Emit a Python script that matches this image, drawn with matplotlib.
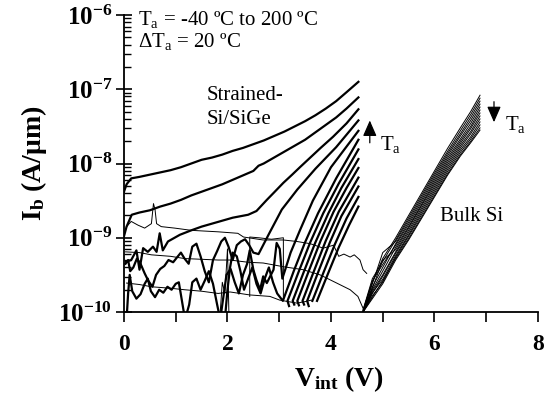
import numpy as np
import matplotlib
matplotlib.use("Agg")
import matplotlib.pyplot as plt
from matplotlib.ticker import LogLocator, NullFormatter, FixedLocator, FuncFormatter

plt.rcParams['font.family'] = 'Liberation Serif'
plt.rcParams['mathtext.fontset'] = 'custom'
plt.rcParams['mathtext.rm'] = 'Liberation Serif'
plt.rcParams['mathtext.bf'] = 'Liberation Serif:bold'
plt.rcParams['mathtext.it'] = 'Liberation Serif:italic'

# values, current given as log10(Ib [A/um])
# strained-Si/SiGe, one curve per ambient temperature (thick lines)
ss_v_200 = [0.0, 0.05, 0.14, 0.3, 0.5, 0.7, 0.9, 1.1, 1.3, 1.5, 1.7, 1.9, 2.1, 2.3, 2.5, 2.7, 2.9, 3.1, 3.3, 3.5, 3.7, 3.9, 4.1, 4.3, 4.53]
ss_lg_200 = [-8.38, -8.28, -8.20, -8.18, -8.15, -8.12, -8.09, -8.05, -8.00, -7.95, -7.92, -7.88, -7.83, -7.79, -7.74, -7.69, -7.63, -7.57, -7.50, -7.43, -7.35, -7.26, -7.16, -7.04, -6.90]

ss_v_180 = [0.0, 0.05, 0.15, 0.3, 0.5, 0.7, 0.9, 1.1, 1.3, 1.5, 1.7, 1.9, 2.1, 2.3, 2.5, 2.6, 2.7, 2.9, 3.1, 3.3, 3.5, 3.7, 3.9, 4.1, 4.3, 4.53]
ss_lg_180 = [-8.98, -8.85, -8.69, -8.66, -8.63, -8.58, -8.54, -8.49, -8.43, -8.38, -8.33, -8.28, -8.22, -8.16, -8.10, -8.03, -8.00, -7.92, -7.84, -7.76, -7.68, -7.58, -7.48, -7.38, -7.26, -7.11]

ss_v_160 = [0.04, 0.14, 0.24, 0.30, 0.37, 0.46, 0.56, 0.63, 0.69, 0.75, 0.85, 1.08, 1.3, 1.5, 1.8, 2.1, 2.4, 2.56, 2.76, 2.9, 3.08, 3.25, 3.4, 3.6, 3.8, 4.04, 4.3, 4.53]
ss_lg_160 = [-9.32, -9.30, -9.17, -9.43, -9.14, -9.19, -9.12, -9.19, -8.94, -9.17, -9.05, -8.96, -8.90, -8.85, -8.79, -8.73, -8.69, -8.64, -8.49, -8.39, -8.26, -8.15, -8.05, -7.92, -7.79, -7.64, -7.46, -7.27]

ss_v_140 = [0.03, 0.08, 0.12, 0.18, 0.25, 0.32, 0.40, 0.47, 0.55, 0.62, 0.70, 0.78, 0.86, 0.95, 1.03, 1.10, 1.17, 1.25, 1.32, 1.40, 1.48, 1.56, 1.64, 1.72, 1.80, 1.88, 1.95, 2.02, 2.10, 2.18, 2.26, 2.34, 2.42, 2.50, 2.6, 2.8, 3.05, 3.35, 3.7, 4.1, 4.53]
ss_lg_140 = [-9.35, -9.30, -9.45, -9.40, -9.28, -9.35, -9.48, -9.58, -9.66, -9.50, -9.42, -9.38, -9.30, -9.33, -9.26, -9.20, -9.28, -9.35, -9.12, -9.08, -9.25, -9.45, -9.60, -9.30, -9.18, -9.05, -9.00, -9.12, -9.30, -9.10, -9.05, -9.02, -9.10, -9.20, -9.22, -8.95, -8.62, -8.35, -8.07, -7.78, -7.42]

ss_v_120 = [0.05, 0.08, 0.11, 0.16, 0.24, 0.32, 0.40, 0.46, 0.52, 0.60, 0.68, 0.76, 0.84, 0.92, 1.00, 1.06, 1.12, 1.18, 1.26, 1.32, 1.40, 1.48, 1.56, 1.64, 1.72, 1.80, 1.86, 1.92, 1.98, 2.06, 2.14, 2.22, 2.30, 2.38, 2.43, 2.50, 2.56, 2.63, 2.69, 2.76, 2.89, 2.95, 3.01, 3.06, 3.12, 3.22, 3.4, 3.65, 4.0, 4.53]
ss_lg_120 = [-10.1, -9.75, -9.5, -9.72, -9.82, -9.76, -9.62, -9.55, -9.72, -9.80, -9.70, -9.74, -9.66, -9.70, -9.62, -9.60, -9.85, -10.1, -9.9, -9.6, -9.55, -9.7, -9.58, -9.45, -9.62, -9.9, -10.1, -9.8, -9.5, -9.42, -9.6, -9.75, -9.5, -9.35, -9.17, -9.43, -9.57, -9.70, -9.52, -9.61, -9.43, -9.07, -9.15, -9.55, -9.42, -9.2, -8.9, -8.5, -8.05, -7.56]

ss_v_100 = [1.95, 2.0, 2.05, 2.1, 2.18, 2.25, 2.32, 2.40, 2.48, 2.56, 2.64, 2.72, 2.80, 2.88, 2.96, 3.07, 3.28, 3.5, 3.75, 4.1, 4.53]
ss_lg_100 = [-10.1, -9.7, -9.4, -9.2, -9.25, -9.45, -9.7, -9.55, -9.4, -9.62, -9.75, -9.55, -9.4, -9.6, -9.75, -9.85, -9.45, -9.06, -8.67, -8.2, -7.68]

ss_v_80 = [3.19, 3.16, 3.38, 3.6, 3.85, 4.15, 4.53]
ss_lg_80 = [-9.92, -9.85, -9.45, -9.06, -8.67, -8.27, -7.81]

ss_v_60 = [3.29, 3.26, 3.48, 3.7, 3.95, 4.2, 4.53]
ss_lg_60 = [-9.9, -9.85, -9.45, -9.06, -8.67, -8.33, -7.94]

ss_v_40 = [3.38, 3.35, 3.57, 3.8, 4.05, 4.3, 4.53]
ss_lg_40 = [-9.91, -9.85, -9.45, -9.04, -8.65, -8.33, -8.06]

ss_v_20 = [3.48, 3.45, 3.67, 3.9, 4.15, 4.53]
ss_lg_20 = [-9.9, -9.85, -9.45, -9.04, -8.65, -8.19]

ss_v_0 = [3.57, 3.54, 3.76, 3.98, 4.2, 4.53]
ss_lg_0 = [-9.92, -9.85, -9.45, -9.06, -8.71, -8.31]

ss_v_m20 = [3.64, 3.86, 4.08, 4.3, 4.53]
ss_lg_m20 = [-9.85, -9.46, -9.08, -8.74, -8.45]

ss_v_m40 = [3.73, 3.95, 4.15, 4.35, 4.53]
ss_lg_m40 = [-9.85, -9.47, -9.13, -8.83, -8.58]

# bulk Si: low-level noise floor (thin lines)
bk_floor_v1 = [0.05, 0.14, 0.27, 0.40, 0.53, 0.57, 0.60, 0.63, 0.72, 0.98, 1.30, 1.82, 2.20, 2.31, 2.69, 3.08, 3.34, 3.60, 3.85, 4.05, 4.15, 4.25, 4.37, 4.45, 4.56, 4.62, 4.69]
bk_floor_lg1 = [-8.85, -8.78, -8.83, -8.87, -8.81, -8.54, -8.62, -8.81, -8.85, -8.87, -8.90, -8.92, -8.94, -8.99, -9.03, -9.03, -9.05, -9.08, -9.14, -9.10, -9.25, -9.22, -9.26, -9.23, -9.30, -9.43, -9.48]
bk_floor_v2 = [0.03, 0.3, 0.53, 0.9, 1.17, 1.5, 1.82, 2.05, 2.4, 2.69, 3.08, 3.46, 3.79, 4.11, 4.37, 4.52, 4.62]
bk_floor_lg2 = [-9.19, -9.2, -9.23, -9.25, -9.28, -9.29, -9.30, -9.30, -9.33, -9.34, -9.39, -9.43, -9.50, -9.61, -9.70, -9.79, -9.95]
bk_floor_v3 = [0.05, 0.3, 0.53, 0.9, 1.17, 1.5, 1.82, 2.05, 2.43, 2.82, 3.01, 3.34, 3.5, 3.62]
bk_floor_lg3 = [-9.61, -9.63, -9.66, -9.68, -9.70, -9.72, -9.75, -9.73, -9.77, -9.79, -9.84, -9.88, -9.86, -9.84]
bk_floor_v4 = [2.43, 2.43, 2.6, 2.85, 3.08, 3.08]
bk_floor_lg4 = [-9.79, -8.99, -9.0, -9.02, -9.0, -9.84]
bk_floor_v5 = [1.85, 1.9, 1.95, 2.0, 2.03]
bk_floor_lg5 = [-10.1, -9.6, -9.75, -9.15, -10.1]

# bulk Si rising part, same voltage points for every temperature
bk_v = [4.62, 4.8, 5.0, 5.25, 5.5, 5.75, 6.0, 6.25, 6.5, 6.7, 6.88]
bk_lg_m40 = [-9.98, -9.60, -9.28, -9.00, -8.70, -8.40, -8.10, -7.80, -7.52, -7.30, -7.08]
bk_lg_m20 = [-9.97, -9.55, -9.32, -9.03, -8.73, -8.43, -8.13, -7.84, -7.56, -7.34, -7.12]
bk_lg_0 = [-9.99, -9.62, -9.20, -9.05, -8.76, -8.46, -8.16, -7.87, -7.60, -7.38, -7.16]
bk_lg_20 = [-10.0, -9.66, -9.40, -9.08, -8.79, -8.49, -8.19, -7.90, -7.63, -7.42, -7.20]
bk_lg_40 = [-9.98, -9.58, -9.36, -9.10, -8.82, -8.52, -8.22, -7.93, -7.67, -7.46, -7.24]
bk_lg_60 = [-10.0, -9.70, -9.45, -9.13, -8.85, -8.55, -8.25, -7.96, -7.70, -7.50, -7.28]
bk_lg_80 = [-9.99, -9.68, -9.30, -9.16, -8.87, -8.57, -8.28, -7.99, -7.73, -7.53, -7.32]
bk_lg_100 = [-10.0, -9.72, -9.50, -9.19, -8.90, -8.60, -8.31, -8.02, -7.76, -7.57, -7.36]
bk_lg_120 = [-10.0, -9.75, -9.52, -9.21, -8.93, -8.63, -8.34, -8.05, -7.79, -7.60, -7.40]
bk_lg_140 = [-10.0, -9.74, -9.56, -9.24, -8.96, -8.66, -8.37, -8.08, -7.82, -7.64, -7.44]
bk_lg_160 = [-10.0, -9.78, -9.60, -9.26, -8.98, -8.69, -8.40, -8.11, -7.85, -7.67, -7.48]
bk_lg_180 = [-10.0, -9.80, -9.58, -9.28, -9.01, -8.72, -8.43, -8.14, -7.88, -7.70, -7.52]
bk_lg_200 = [-10.0, -9.82, -9.62, -9.30, -9.03, -8.74, -8.45, -8.16, -7.90, -7.72, -7.55]

strained = [(ss_v_200, ss_lg_200), (ss_v_180, ss_lg_180), (ss_v_160, ss_lg_160),
            (ss_v_140, ss_lg_140), (ss_v_120, ss_lg_120), (ss_v_100, ss_lg_100),
            (ss_v_80, ss_lg_80), (ss_v_60, ss_lg_60), (ss_v_40, ss_lg_40),
            (ss_v_20, ss_lg_20), (ss_v_0, ss_lg_0), (ss_v_m20, ss_lg_m20),
            (ss_v_m40, ss_lg_m40)]
floor = [(bk_floor_v1, bk_floor_lg1), (bk_floor_v2, bk_floor_lg2), (bk_floor_v3, bk_floor_lg3),
         (bk_floor_v4, bk_floor_lg4), (bk_floor_v5, bk_floor_lg5)]
bulk = [bk_lg_m40, bk_lg_m20, bk_lg_0, bk_lg_20, bk_lg_40, bk_lg_60, bk_lg_80,
        bk_lg_100, bk_lg_120, bk_lg_140, bk_lg_160, bk_lg_180, bk_lg_200]

fig = plt.figure(figsize=(5.52, 3.96), dpi=100)
ax = fig.add_axes([0.2246, 0.2121, 0.75, 0.75])

for v, lg in floor:
    ax.plot(v, 10.0 ** np.array(lg), color='black', lw=0.7)
for lg in bulk:
    ax.plot(bk_v, 10.0 ** np.array(lg), color='black', lw=0.7)
for v, lg in strained:
    ax.plot(v, 10.0 ** np.array(lg), color='black', lw=1.6)

ax.set_yscale('log')
ax.set_xlim(0, 8)
ax.set_ylim(1e-10, 1e-6)

ax.spines['top'].set_visible(False)
ax.spines['right'].set_visible(False)
ax.spines['left'].set_linewidth(1.3)
ax.spines['bottom'].set_linewidth(1.3)

ax.yaxis.set_major_locator(LogLocator(base=10, numticks=10))
ax.yaxis.set_minor_locator(LogLocator(base=10, subs=np.arange(2, 10), numticks=20))
ax.yaxis.set_minor_formatter(NullFormatter())
ax.yaxis.set_major_formatter(FuncFormatter(lambda y, p: r'$\mathbf{10^{%d}}$' % int(round(np.log10(y)))))
ax.tick_params(axis='y', which='major', direction='inout', length=11, width=1.2, labelsize=18, pad=3)
ax.tick_params(axis='y', which='minor', direction='in', length=5, width=1.0)

ax.xaxis.set_major_locator(FixedLocator(range(0, 9)))
ax.set_xticklabels(['0', '', '2', '', '4', '', '6', '', '8'], fontweight='bold')
ax.tick_params(axis='x', which='major', direction='out', length=7, width=1.2, labelsize=17, pad=9)

ax.set_xlabel(r'V$_\mathbf{int}$ (V)', fontsize=20, fontweight='bold')
ax.xaxis.set_label_coords(0.52, -0.175)
ax.xaxis.label.set_va('top')
ax.set_ylabel(r'I$_\mathbf{b}$ (A/μm)', fontsize=20, fontweight='bold')
ax.yaxis.set_label_coords(-0.18, 0.5)

ax.text(0.034, 0.966, r'T$_\mathrm{a}$ = -40 ºC to 200 ºC', transform=ax.transAxes, fontsize=15, va='baseline')
ax.text(0.034, 0.892, r'ΔT$_\mathrm{a}$ = 20 ºC', transform=ax.transAxes, fontsize=15, va='baseline')
ax.text(1.60, 7.2e-8, 'Strained-', fontsize=15, va='baseline')
ax.text(1.60, 3.4e-8, 'Si/SiGe', fontsize=15, va='baseline')
ax.text(6.11, 1.68e-9, 'Bulk Si', fontsize=15, va='baseline')

ax.annotate('', xy=(4.75, 3.8e-8), xytext=(4.75, 1.9e-8),
            arrowprops=dict(arrowstyle='-|>,head_length=0.8,head_width=0.35', color='black',
                            lw=0.9, mutation_scale=12, shrinkA=0, shrinkB=0))
ax.text(4.95, 1.52e-8, r'T$_\mathrm{a}$', fontsize=15, va='baseline')
ax.annotate('', xy=(7.15, 3.6e-8), xytext=(7.15, 6.8e-8),
            arrowprops=dict(arrowstyle='-|>,head_length=0.8,head_width=0.35', color='black',
                            lw=0.9, mutation_scale=12, shrinkA=0, shrinkB=0))
ax.text(7.36, 2.82e-8, r'T$_\mathrm{a}$', fontsize=15, va='baseline')

fig.savefig('out.png', dpi=100)
